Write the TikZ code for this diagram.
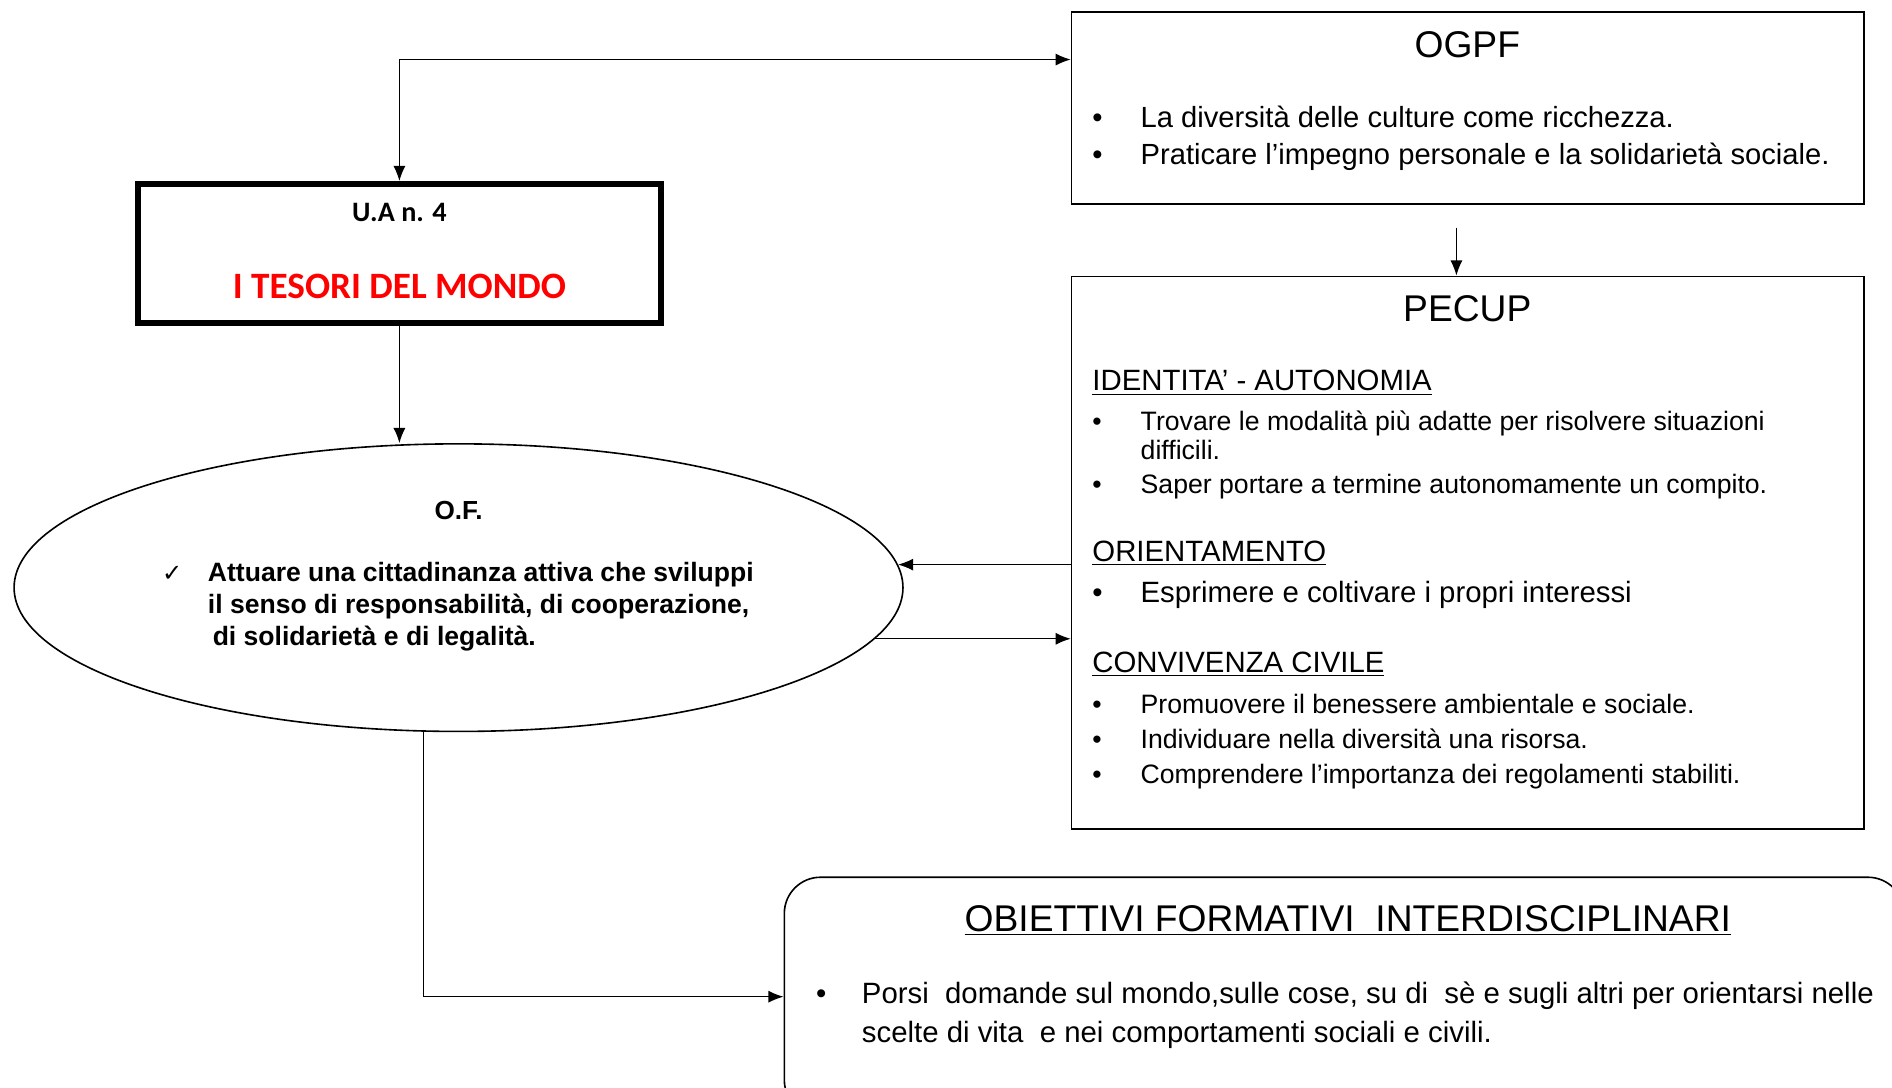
\documentclass[tikz,border=0pt]{standalone}
\usepackage{fontspec}
\setmainfont{Liberation Sans}
\newfontfamily\calibri{Carlito}
\newfontfamily\dejavu{DejaVu Sans}
\usetikzlibrary{
    shapes.geometric,
    positioning,
    arrows.meta,
}
\tikzstyle{block} = [rectangle, draw, line width=0.8pt, inner sep=0pt]
\tikzstyle{line} = [draw, line width=0.6pt]
\tikzstyle{txt} = [inner sep=0pt, anchor=base west, align=left]
\tikzstyle{title} = [inner sep=0pt, font=\fontsize{18.5}{22}\selectfont]
\tikzstyle{head} = [txt, font=\fontsize{14.6}{17}\selectfont]
\newcommand{\bul}{\makebox[24pt][l]{•}}

\begin{document}
\begin{tikzpicture}[x=0.6pt, y=-0.6pt, >={Latex[length=7.5pt,width=6pt]}]
        \useasboundingbox (0,0) rectangle (1568,901);
        \clip (0,0) rectangle (1568,901);
        % Place nodes
        \node [block, minimum width=394.2pt, minimum height=95.4pt] (ogpf) at (1216.5,89.5) {};
        \node [block, minimum width=394.2pt, minimum height=274.8pt] (pecup) at (1216.5,458) {};
        \node [block, line width=3pt, minimum width=259.8pt, minimum height=69pt] (ua) at (331,210) {};
        \node [ellipse, draw, line width=0.8pt, minimum width=442pt, minimum height=143pt, inner sep=0pt] (of) at (380,487) {};
        \node [block, rounded corners=18pt, minimum width=556.8pt, minimum height=118.8pt] (obj) at (1114,826) {};
        % Texts
        \node [title] (ogpf_title) at (1216,37) {OGPF};
        \node [title] (pecup_title) at (1216,256) {PECUP};
        \node [title, anchor=base] (obj_title) at (1117,772) {\underline{OBIETTIVI FORMATIVI\ \ INTERDISCIPLINARI}};
        \node [inner sep=0pt, font=\calibri\bfseries\fontsize{14}{16}\selectfont] (ua_num) at (331,176) {U.A n. 4};
        \node [inner sep=0pt, text=red, font=\calibri\bfseries\fontsize{18.5}{22}\selectfont] (ua_title) at (331,237) {I TESORI DEL MONDO};
        \node [inner sep=0pt, font=\bfseries\fontsize{13}{15}\selectfont] (of_title) at (380,423) {O.F.};
        \node [txt, font=\fontsize{14.5}{18}\selectfont] (ogpf_list) at (905,136)
            {\bul La diversità delle culture come ricchezza.\\
             \bul Praticare l’impegno personale e la solidarietà sociale.};
        \node [head] (identita) at (905,324) {\underline{IDENTITA’ - AUTONOMIA}};
        \node [txt, font=\fontsize{13.25}{14.4}\selectfont] (identita_list) at (905,409)
            {\bul Trovare le modalità più adatte per risolvere situazioni\\
             \hspace*{24pt}difficili.\\[2.4pt]
             \bul Saper portare a termine autonomamente un compito.};
        \node [head] (orientamento) at (905,465) {\underline{ORIENTAMENTO}};
        \node [head] (orientamento_list) at (905,499) {\bul Esprimere e coltivare i propri interessi};
        \node [head] (convivenza) at (905,557) {\underline{CONVIVENZA CIVILE}};
        \node [txt, font=\fontsize{13.25}{17.4}\selectfont] (convivenza_list) at (905,649)
            {\bul Promuovere il benessere ambientale e sociale.\\
             \bul Individuare nella diversità una risorsa.\\
             \bul Comprendere l’importanza dei regolamenti stabiliti.};
        \node [txt, font=\bfseries\fontsize{13.2}{15.9}\selectfont] (of_list) at (134,535)
            {\makebox[22.8pt][l]{\dejavu\mdseries\fontsize{12}{12}\selectfont ✓}Attuare una cittadinanza attiva che sviluppi\\
             \hspace*{22.8pt}il senso di responsabilità, di cooperazione,\\
             \hspace*{25.2pt}di solidarietà e di legalità.};
        \node [txt, font=\fontsize{14.6}{19.2}\selectfont] (obj_list) at (676,864)
            {\makebox[22.8pt][l]{•}Porsi\ \ domande sul mondo,sulle cose, su di\ \ sè e sugli altri per orientarsi nelle\\
             \hspace*{22.8pt}scelte di vita\ \ e nei comportamenti sociali e civili.};
        % Draw edges
        \path [line,<->] (ua.north) |- ([yshift=-24pt]ogpf.north west);
        \path [line,->] ([xshift=-5.7pt,yshift=-11.4pt]ogpf.south) -- ([xshift=-5.7pt]pecup.north);
        \path [line,->] (ua.south) -- (ua.south |- of.north);
        \path [line,->] (of.3 -| pecup.west) -- (of.3);
        \path [line,->] (of.-7.3) -- (of.-7.3 -| pecup.west);
        \path [line,->] ([xshift=-17.4pt]of.south) |- (obj.west);
    \end{tikzpicture}
\end{document}
